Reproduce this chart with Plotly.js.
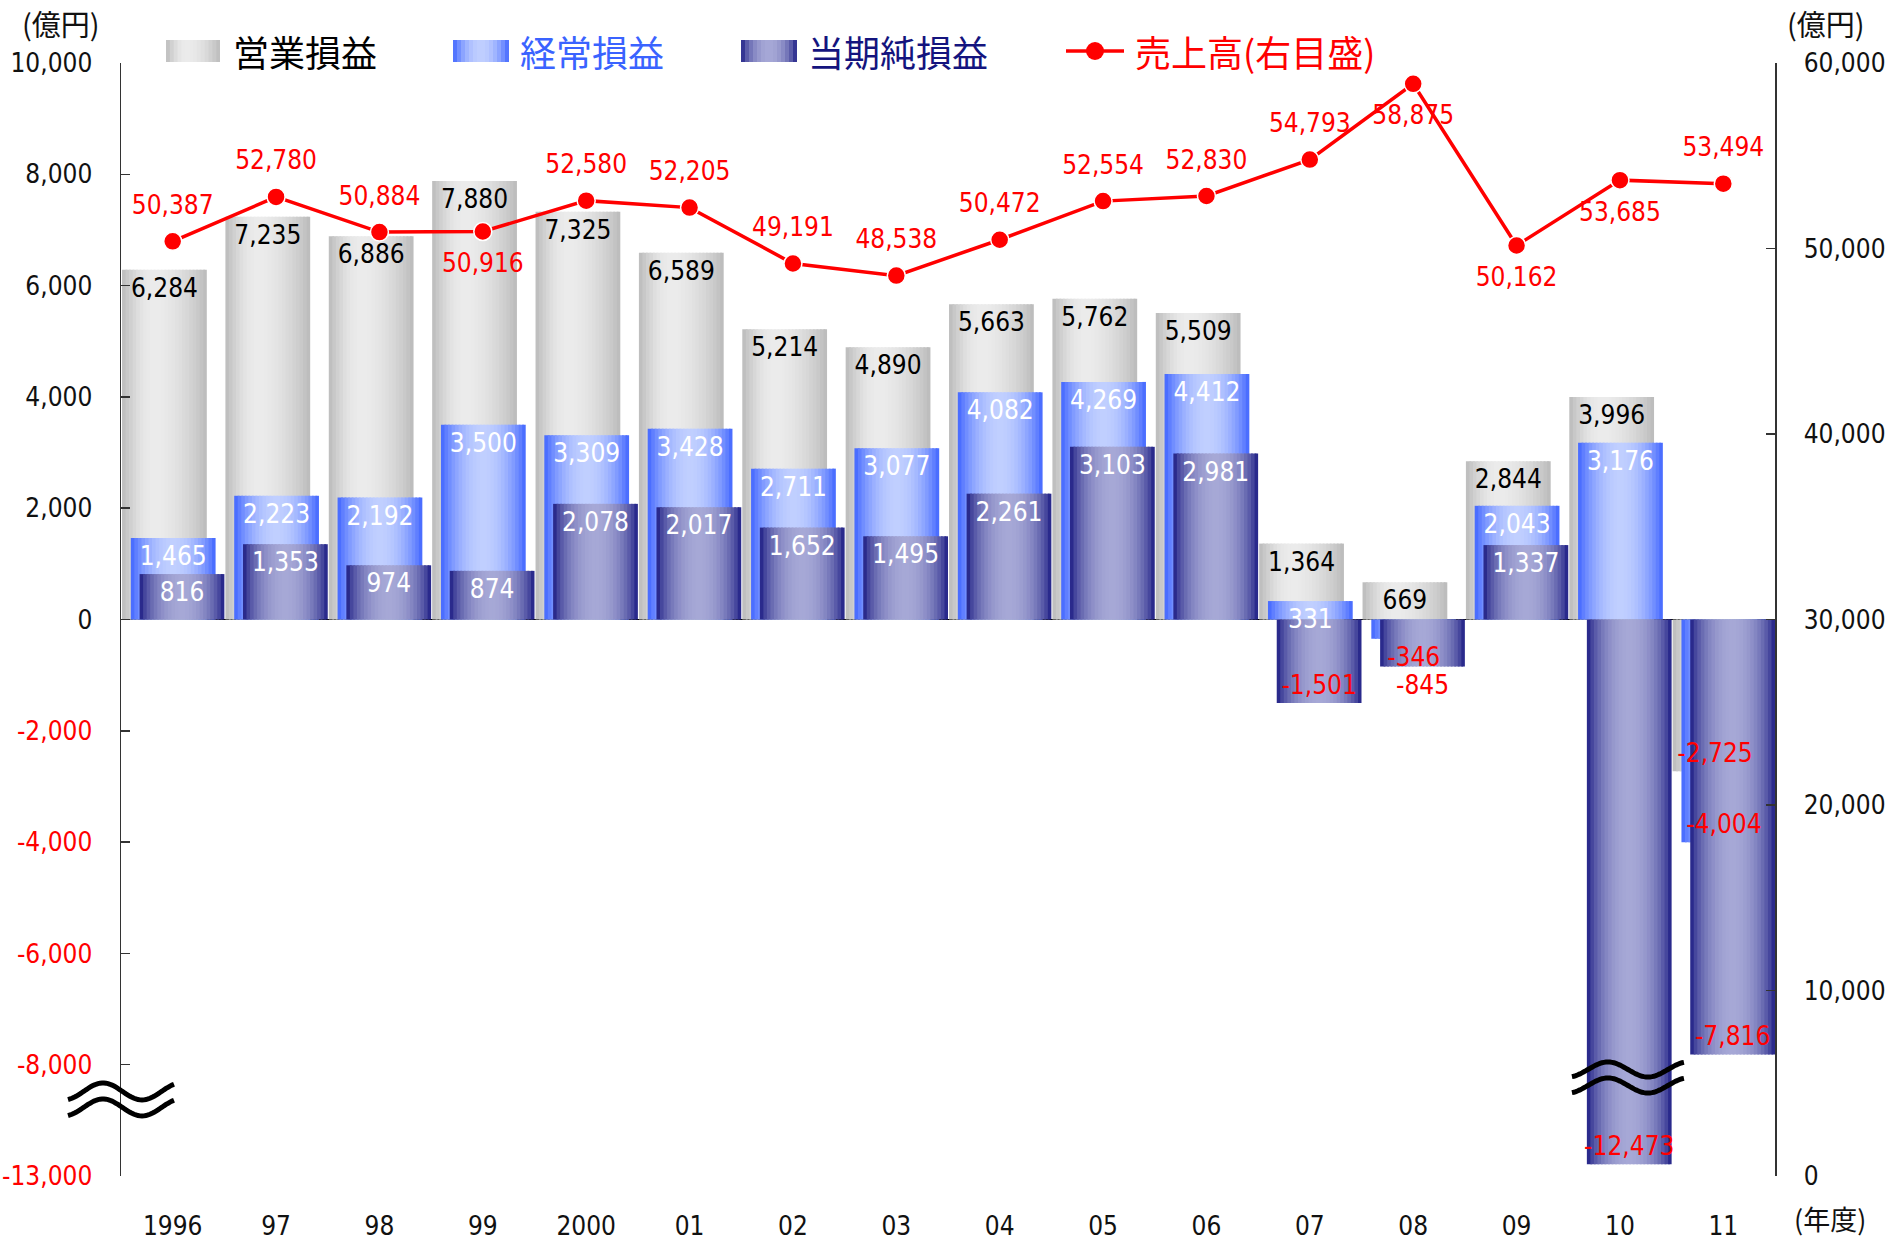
<!DOCTYPE html>
<html>
<head>
<meta charset="utf-8">
<script src="https://cdn.plot.ly/plotly-3.0.1.min.js"></script>
<style>
html,body{margin:0;padding:0;background:#fff;}
#chart{width:1899px;height:1240px;}
</style>
</head>
<body>
<div id="chart"></div>
<script>
// ---------------- data ----------------
const years = ['1996','97','98','99','2000','01','02','03','04','05','06','07','08','09','10','11'];
const operatingIncome = [6284,7235,6886,7880,7325,6589,5214,4890,5663,5762,5509,1364,669,2844,3996,-2725];
const ordinaryIncome  = [1465,2223,2192,3500,3309,3428,2711,3077,4082,4269,4412,331,-346,2043,3176,-4004];
const netIncome       = [816,1353,974,874,2078,2017,1652,1495,2261,3103,2981,-1501,-845,1337,-12473,-7816];
const sales           = [50387,52780,50884,50916,52580,52205,49191,48538,50472,52554,52830,54793,58875,50162,53685,53494];
const leftTickValues  = [10000,8000,6000,4000,2000,0,-2000,-4000,-6000,-8000,-13000];
const rightTickValues = [0,10000,20000,30000,40000,50000,60000];
const seriesNames     = ['営業損益','経常損益','当期純損益','売上高(右目盛)'];
const unitLabel = '(億円)';
const yearLabel = '(年度)';

// ---------------- axis break (-8,000 … -13,000 squeezed) ----------------
const BREAK_FROM = -8000;
const BREAK_RATIO = 2000 / 5000;
function disp(v){ return v >= BREAK_FROM ? v : BREAK_FROM + (v - BREAK_FROM) * BREAK_RATIO; }
const fmt = v => v.toLocaleString('en-US');

// ---------------- styles ----------------
const NUM_FONT = '"Liberation Sans Narrow","Arial Narrow","DejaVu Sans Condensed",sans-serif';
const JP_FONT = '"Noto Sans CJK JP","Noto Sans",sans-serif';
const NUM_SIZE = 26;
const RED = '#ff0000';
const W = 1899, H = 1240;
const M = {l:121, r:124, t:63, b:64};
const PW = W - M.l - M.r, PH = H - M.t - M.b;
const px = x => (x - M.l) / PW;
const py = y => (H - M.b - y) / PH;

const BAR_W = 0.82, NSTRIPE = 24;
const barStyles = [
  {values: operatingIncome, offset:-0.49,  edge:[186,186,186], mid:[235,235,235], peak:0.38, pw:0.9,  posText:'#000', legendColor:'#000000'},
  {values: ordinaryIncome,  offset:-0.405, edge:[60,98,255],   mid:[192,207,255], peak:0.5,  pw:0.8,  posText:'#fff', legendColor:'#3a63ff'},
  {values: netIncome,       offset:-0.32,  edge:[12,12,122],   mid:[166,168,214], peak:0.5,  pw:0.6,  posText:'#fff', legendColor:'#14147e'}
];
// sales label placement (above / below the point)
const salesLabelSide = ['top center','top center','top center','bottom center','top center','top center','top center','top center',
                        'top center','top center','top center','top center','bottom center','bottom center','bottom center','top center'];

function profile(t, peak, pw){
  const g = t < peak ? Math.sin(Math.PI/2 * t/peak) : Math.sin(Math.PI/2 * (1-t)/(1-peak));
  return Math.pow(Math.max(0,g), pw);
}
function mix(a, b, f){
  const c = a.map((v,i) => Math.round(v + (b[i]-v)*f));
  return 'rgb(' + c.join(',') + ')';
}

// ---------------- traces ----------------
const traces = [];
barStyles.forEach((s, si) => {
  const yv = s.values.map(disp);
  const w = BAR_W / NSTRIPE;
  for (let k = 0; k < NSTRIPE; k++) {
    const t = (k + 0.5) / NSTRIPE;
    traces.push({
      type:'bar', x:years, y:yv, name:seriesNames[si],
      offset: s.offset + k*w, width: k < NSTRIPE-1 ? w*1.5 : w,
      marker:{color: mix(s.edge, s.mid, profile(t, s.peak, s.pw)), line:{width:0}},
      hoverinfo:'skip', showlegend:false
    });
  }
});
// value labels on top of all bars (short negative bars of the 2nd/3rd series get their label below)
barStyles.forEach((s, si) => {
  traces.push({
    type:'bar', x:years, y:s.values.map(disp), name:seriesNames[si],
    offset:s.offset, width:BAR_W,
    marker:{color:'rgba(0,0,0,0)', line:{width:0}},
    text:s.values.map(fmt),
    textposition:s.values.map(v => (si > 0 && v < 0 && v > -1000) ? 'outside' : 'inside'),
    insidetextanchor:'end', textangle:0, constraintext:'none', cliponaxis:false,
    textfont:{family:NUM_FONT, size:NUM_SIZE, color:s.values.map(v => v < 0 ? RED : s.posText)},
    outsidetextfont:{family:NUM_FONT, size:NUM_SIZE, color:RED},
    hoverinfo:'skip', showlegend:false
  });
});
// sales line (right axis)
traces.push({
  type:'scatter', mode:'lines+markers', x:years, y:sales, yaxis:'y2', name:seriesNames[3],
  line:{color:RED, width:3.5}, marker:{size:18, color:RED, line:{color:'#fff', width:1.5}},
  hoverinfo:'skip', showlegend:false, cliponaxis:false
});
traces.push({
  type:'scatter', mode:'markers+text', x:years, y:sales, yaxis:'y2', name:seriesNames[3],
  marker:{size:32, color:'rgba(0,0,0,0)'},
  text:sales.map(fmt), textposition:salesLabelSide,
  textfont:{family:NUM_FONT, size:NUM_SIZE, color:RED},
  hoverinfo:'skip', showlegend:false, cliponaxis:false
});

// ---------------- decorations ----------------
const shapes = [];
const annotations = [];

// legend
const legendY0 = 40, legendY1 = 62, legendYc = 51;
const legendItems = [
  {sx0:166, sx1:220, tx:231},
  {sx0:453, sx1:509, tx:518},
  {sx0:741, sx1:797, tx:806}
];
legendItems.forEach((it, i) => {
  const s = barStyles[i];
  const n = 14, w = (it.sx1 - it.sx0) / n;
  for (let k = 0; k < n; k++) {
    const t = (k + 0.5) / n;
    shapes.push({type:'rect', xref:'paper', yref:'paper',
      x0:px(it.sx0 + k*w), x1:px(it.sx0 + (k+1)*w + (k < n-1 ? 0.6 : 0)), y0:py(legendY1), y1:py(legendY0),
      fillcolor:mix(s.edge, s.mid, profile(t, s.peak, s.pw)), line:{width:0}, layer:'above'});
  }
  annotations.push({xref:'paper', yref:'paper', x:px(it.tx), y:py(legendYc), xanchor:'left', yanchor:'middle',
    text:seriesNames[i], showarrow:false, font:{family:JP_FONT, size:36, color:s.legendColor}});
});
shapes.push({type:'line', xref:'paper', yref:'paper', x0:px(1066), x1:px(1124), y0:py(legendYc), y1:py(legendYc),
  line:{color:RED, width:3.5}, layer:'above'});
shapes.push({type:'circle', xref:'paper', yref:'paper', x0:px(1086), x1:px(1104), y0:py(legendYc+9), y1:py(legendYc-9),
  fillcolor:RED, line:{color:RED, width:0}, layer:'above'});
annotations.push({xref:'paper', yref:'paper', x:px(1133), y:py(legendYc), xanchor:'left', yanchor:'middle',
  text:seriesNames[3], showarrow:false, font:{family:JP_FONT, size:36, color:RED}});

// unit labels
annotations.push({xref:'paper', yref:'paper', x:px(61), y:py(23), xanchor:'center', yanchor:'middle',
  text:unitLabel, showarrow:false, font:{family:JP_FONT, size:29, color:'#111'}});
annotations.push({xref:'paper', yref:'paper', x:px(1826), y:py(23), xanchor:'center', yanchor:'middle',
  text:unitLabel, showarrow:false, font:{family:JP_FONT, size:29, color:'#111'}});
annotations.push({xref:'paper', yref:'paper', x:px(1830), y:py(1218), xanchor:'center', yanchor:'middle',
  text:yearLabel, showarrow:false, borderpad:0, font:{family:JP_FONT, size:27, color:'#111'}});

// break marks (double wavy lines)
function wave(xa, xb, peakX, period, mid, amp){
  let d = '';
  for (let x = xa; x <= xb; x += 2) {
    const y = mid + amp * Math.cos(2*Math.PI*(x - peakX)/period);
    d += (d ? ' L' : 'M') + x.toFixed(1) + ',' + y.toFixed(1);
  }
  return d;
}
function breakMark(xref, xanchor, yanchorVal, xa, xb, peakX, period, amp){
  [8.5, -7.5].forEach(mid => {
    shapes.push({type:'path', xref:xref, yref:'y', xsizemode:'pixel', ysizemode:'pixel',
      xanchor:xanchor, yanchor:yanchorVal,
      path:wave(xa, xb, peakX, period, mid, amp),
      line:{color:'#000', width:5}, layer:'above'});
  });
}
breakMark('paper', 0, -8634, -53, 54, -18, 78, 8.5);
breakMark('x', years.indexOf('10'), -8239, -48, 65, -12, 80, 7.5);

// ---------------- layout ----------------
const layout = {
  width:W, height:H, margin:M,
  paper_bgcolor:'#fff', plot_bgcolor:'rgba(0,0,0,0)',
  barmode:'overlay', showlegend:false,
  font:{family:NUM_FONT, color:'#111'},
  xaxis:{type:'category', range:[-0.5, 15.5], showgrid:false, zeroline:false, showline:false,
    ticks:'', tickfont:{family:NUM_FONT, size:NUM_SIZE, color:'#111'}, ticklabelstandoff:32, fixedrange:true},
  yaxis:{range:[-10000, 10000], showgrid:false,
    tickmode:'array', tickvals:leftTickValues.map(disp),
    ticktext:leftTickValues.map(v => v < 0 ? '<span style="color:' + RED + '">' + fmt(v) + '</span>' : fmt(v)),
    ticks:'inside', ticklen:9, tickwidth:1.5, tickcolor:'#333',
    showline:true, linecolor:'#333', linewidth:1.5,
    zeroline:true, zerolinecolor:'#000', zerolinewidth:1.5,
    tickfont:{family:NUM_FONT, size:NUM_SIZE, color:'#111'}, ticklabelstandoff:22, fixedrange:true},
  yaxis2:{overlaying:'y', side:'right', range:[0, 60000], showgrid:false, zeroline:false,
    tickmode:'array', tickvals:rightTickValues, ticktext:rightTickValues.map(fmt),
    ticks:'inside', ticklen:9, tickwidth:1.5, tickcolor:'#333',
    showline:true, linecolor:'#333', linewidth:1.5,
    tickfont:{family:NUM_FONT, size:NUM_SIZE, color:'#111'}, ticklabelstandoff:22, fixedrange:true},
  shapes:shapes,
  annotations:annotations
};

Plotly.newPlot('chart', traces, layout, {staticPlot:true, displayModeBar:false});
</script>
</body>
</html>
